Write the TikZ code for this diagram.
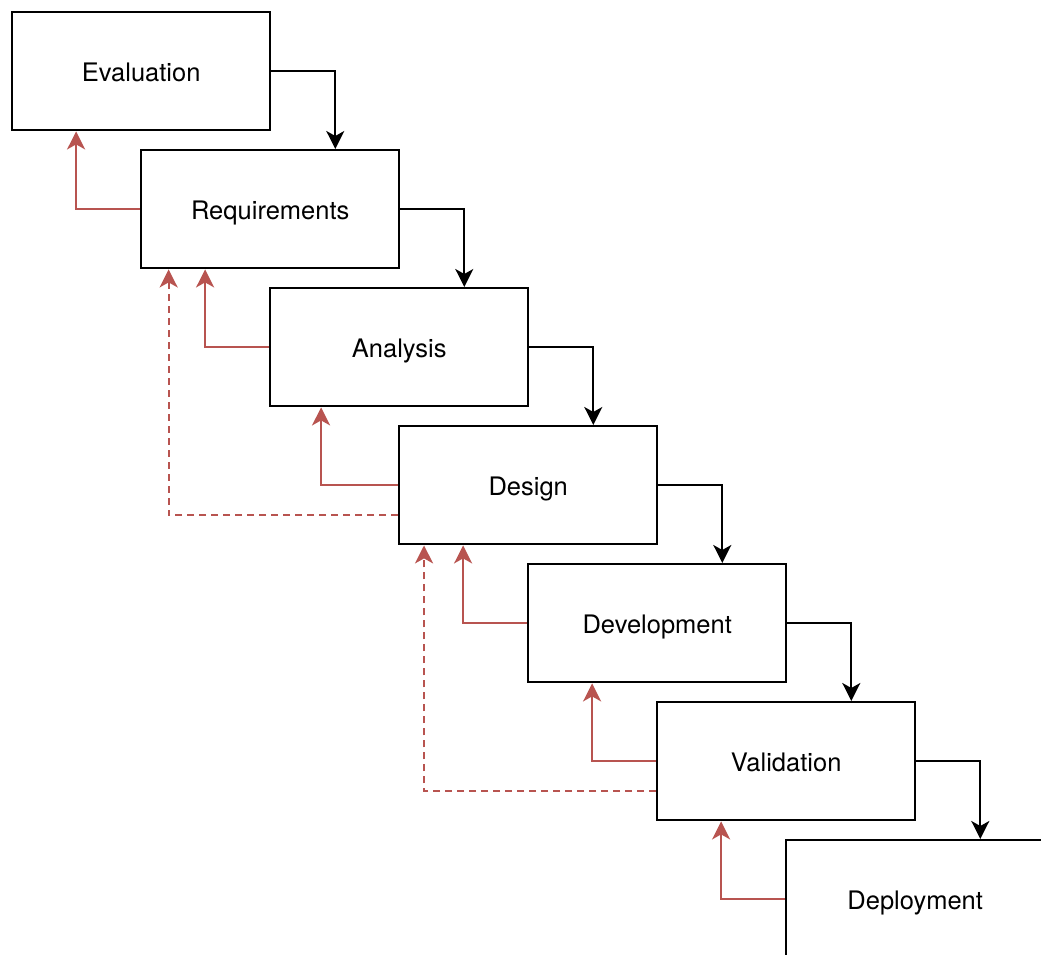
\documentclass[tikz,border=0pt]{standalone}
\usepackage{fontspec}
\setmainfont{TeX Gyre Heros}
\usetikzlibrary{arrows.meta,calc}
\definecolor{backred}{HTML}{B85450}
\begin{document}
\begin{tikzpicture}[x=1pt,y=-1pt,
  phase/.style={draw=black,line width=2.4pt,fill=white,minimum width=258pt,minimum height=118pt,
    anchor=north west,inner sep=0pt,text height=21pt,text depth=0pt,
    font=\fontsize{25.5}{30}\selectfont},
  tip/.style={-{Stealth[length=18pt,width=18pt,inset=5pt]}},
  fwd/.style={draw=black,line width=2.2pt,tip},
  back/.style={draw=backred,line width=2.2pt,tip},
  backdash/.style={back,dash pattern=on 7pt off 5pt}]
\useasboundingbox (0,0) rectangle (1041,955);
\clip (0,0) rectangle (1041,955);

% the seven phases, each shifted one step down and to the right
\node[phase] (eval) at (11,11)   {Evaluation};
\node[phase] (req)  at (140,149) {Requirements};
\node[phase] (ana)  at (269,287) {Analysis};
\node[phase] (des)  at (398,425) {Design};
\node[phase] (dev)  at (527,563) {Development};
\node[phase] (val)  at (656,701) {Validation};
\node[phase] (dep)  at (785,839) {Deployment};

% forward flow: right side down into the next phase
\draw[fwd] (eval.east) -| ($(req.north west)!0.75!(req.north east)$);
\draw[fwd] (req.east)  -| ($(ana.north west)!0.75!(ana.north east)$);
\draw[fwd] (ana.east)  -| ($(des.north west)!0.75!(des.north east)$);
\draw[fwd] (des.east)  -| ($(dev.north west)!0.75!(dev.north east)$);
\draw[fwd] (dev.east)  -| ($(val.north west)!0.75!(val.north east)$);
\draw[fwd] (val.east)  -| ($(dep.north west)!0.75!(dep.north east)$);

% feedback: left side back up into the previous phase
\draw[back] (req.west) -| ($(eval.south west)!0.25!(eval.south east)$);
\draw[back] (ana.west) -| ($(req.south west)!0.25!(req.south east)$);
\draw[back] (des.west) -| ($(ana.south west)!0.2!(ana.south east)$);
\draw[back] (dev.west) -| ($(des.south west)!0.25!(des.south east)$);
\draw[back] (val.west) -| ($(dev.south west)!0.25!(dev.south east)$);
\draw[back] (dep.west) -| ($(val.south west)!0.25!(val.south east)$);

% longer feedback loops
\draw[backdash] ($(des.north west)!0.75!(des.south west)$) -| ($(req.south west)!0.11!(req.south east)$);
\draw[backdash] ($(val.north west)!0.75!(val.south west)$) -| ($(des.south west)!0.1!(des.south east)$);
\end{tikzpicture}
\end{document}
